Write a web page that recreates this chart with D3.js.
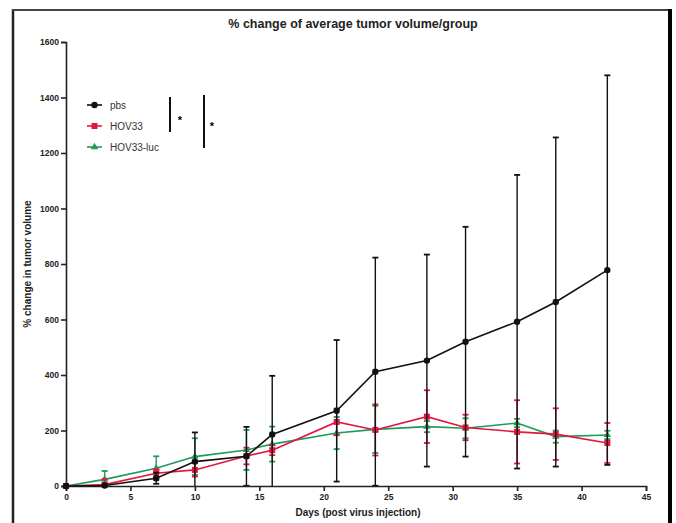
<!DOCTYPE html>
<html>
<head>
<meta charset="utf-8">
<script src="https://cdn.jsdelivr.net/npm/d3@7/dist/d3.min.js"></script>
<style>
  body { margin: 0; background: #fff; }
  svg { font-family: "Liberation Sans", Arial, sans-serif; }
  .tick text { font-weight: bold; font-size: 8.5px; fill: #222; }
  .axis path, .axis line { stroke: #222; stroke-width: 1.6; }
</style>
</head>
<body>
<svg></svg>
<script>

var width = 676;
var height = 523;

// data
var days = [0, 3, 7, 10, 14, 16, 21, 24, 28, 31, 35, 38, 42];

var pbsMean = [0, 2, 28, 88, 107, 186, 271, 412, 452, 520, 592, 663, 778];
var pbsSd   = [0, 5, 20, 105, 106, 211, 255, 411, 382, 414, 529, 593, 702];

var hovMean = [0, 5, 46, 58, 108, 129, 231, 202, 250, 211, 195, 187, 155];
var hovSd   = [0, 20, 15, 24, 30, 18, 48, 92, 95, 46, 114, 93, 72];

var lucMean = [0, 24, 64, 106, 130, 151, 191, 204, 214, 208, 227, 178, 184];
var lucSd   = [0, 30, 43, 66, 72, 63, 58, 85, 20, 36, 15, 22, 15];

var xTicks = [0, 5, 10, 15, 20, 25, 30, 35, 40, 45];
var yTicks = [0, 200, 400, 600, 800, 1000, 1200, 1400, 1600];

var series = [
  {name: "HOV33-luc", mean: lucMean, sd: lucSd, color: "#1e9a5c", shape: d3.symbolTriangle, size: 24},
  {name: "HOV33",     mean: hovMean, sd: hovSd, color: "#e3163f", shape: d3.symbolSquare,   size: 36},
  {name: "pbs",       mean: pbsMean, sd: pbsSd, color: "#111111", shape: d3.symbolCircle,   size: 32}
];

var svg = d3.select("svg").attr("width", width).attr("height", height);

// outer frame
svg.append("line").attr("x1", 13).attr("y1", 9).attr("x2", 13).attr("y2", height + 5)
  .attr("stroke", "#222").attr("stroke-width", 2.5);
svg.append("line").attr("x1", 12).attr("y1", 10).attr("x2", 671).attr("y2", 10)
  .attr("stroke", "#444").attr("stroke-width", 2);
svg.append("line").attr("x1", 670).attr("y1", 9).attr("x2", 670).attr("y2", height + 5)
  .attr("stroke", "#000").attr("stroke-width", 4);

var x = d3.scaleLinear().domain([0, 45]).range([66, 646]);
var y = d3.scaleLinear().domain([0, 1600]).range([486, 42]);

// title
svg.append("text").attr("x", 353).attr("y", 28).attr("text-anchor", "middle")
  .style("font-weight", "bold").style("font-size", "12.5px").style("fill", "#222")
  .text("% change of average tumor volume/group");

// axes
svg.append("g").attr("class", "axis")
  .attr("transform", "translate(0," + y(0) + ")")
  .call(d3.axisBottom(x).tickValues(xTicks).tickFormat(d3.format("d")).tickSize(5).tickSizeOuter(5).tickPadding(3));

svg.append("g").attr("class", "axis")
  .attr("transform", "translate(" + x(0) + ",0)")
  .call(d3.axisLeft(y).tickValues(yTicks).tickFormat(d3.format("d")).tickSize(5).tickSizeOuter(5).tickPadding(2));

svg.append("text").attr("x", 358).attr("y", 516).attr("text-anchor", "middle")
  .style("font-weight", "bold").style("font-size", "10px").style("fill", "#222")
  .text("Days (post virus injection)");

svg.append("text").attr("transform", "translate(31,264) rotate(-90)").attr("text-anchor", "middle")
  .style("font-weight", "bold").style("font-size", "10px").style("fill", "#222")
  .text("% change in tumor volume");

// clip error bars to plot
svg.append("clipPath").attr("id", "plot").append("rect")
  .attr("x", 60).attr("y", 30).attr("width", 600).attr("height", y(0) - 30);

var line = d3.line().x(function(d) { return x(d.day); }).y(function(d) { return y(d.v); });

series.forEach(function(s) {
  var pts = days.map(function(d, i) { return {day: d, v: s.mean[i], sd: s.sd[i]}; });
  var g = svg.append("g");

  var eb = g.append("g").attr("clip-path", "url(#plot)").attr("stroke", s.color).attr("stroke-width", 1.4);
  pts.forEach(function(p) {
    if (p.sd <= 0) return;
    var cx = x(p.day);
    eb.append("line").attr("x1", cx).attr("x2", cx).attr("y1", y(p.v + p.sd)).attr("y2", y(p.v - p.sd));
    eb.append("line").attr("x1", cx - 3).attr("x2", cx + 3).attr("y1", y(p.v + p.sd)).attr("y2", y(p.v + p.sd)).attr("stroke-width", 1.8);
    eb.append("line").attr("x1", cx - 3).attr("x2", cx + 3).attr("y1", y(p.v - p.sd)).attr("y2", y(p.v - p.sd)).attr("stroke-width", 1.8);
  });

  g.append("path").datum(pts).attr("d", line)
    .attr("fill", "none").attr("stroke", s.color).attr("stroke-width", 1.6);

  g.selectAll(".pt").data(pts).enter().append("path")
    .attr("transform", function(d) { return "translate(" + x(d.day) + "," + y(d.v) + ")"; })
    .attr("d", d3.symbol().type(s.shape).size(s.size))
    .attr("fill", s.color);
});

// legend
var legend = [series[2], series[1], series[0]];
legend.forEach(function(s, i) {
  var ly = 105 + i * 21;
  svg.append("line").attr("x1", 87).attr("x2", 102).attr("y1", ly).attr("y2", ly)
    .attr("stroke", s.color).attr("stroke-width", 1.6);
  svg.append("path").attr("transform", "translate(94.5," + ly + ")")
    .attr("d", d3.symbol().type(s.shape).size(s.size)).attr("fill", s.color);
  svg.append("text").attr("x", 110).attr("y", ly + 3.5)
    .style("font-size", "10px").style("fill", "#333").text(s.name);
});

// significance marks
svg.append("line").attr("x1", 170).attr("x2", 170).attr("y1", 97).attr("y2", 132)
  .attr("stroke", "#111").attr("stroke-width", 2);
svg.append("text").attr("x", 180).attr("y", 124).attr("text-anchor", "middle")
  .style("font-size", "11px").style("font-weight", "bold").text("*");
svg.append("line").attr("x1", 204).attr("x2", 204).attr("y1", 95).attr("y2", 148)
  .attr("stroke", "#111").attr("stroke-width", 2);
svg.append("text").attr("x", 212).attr("y", 130).attr("text-anchor", "middle")
  .style("font-size", "11px").style("font-weight", "bold").text("*");

</script>
</body>
</html>
